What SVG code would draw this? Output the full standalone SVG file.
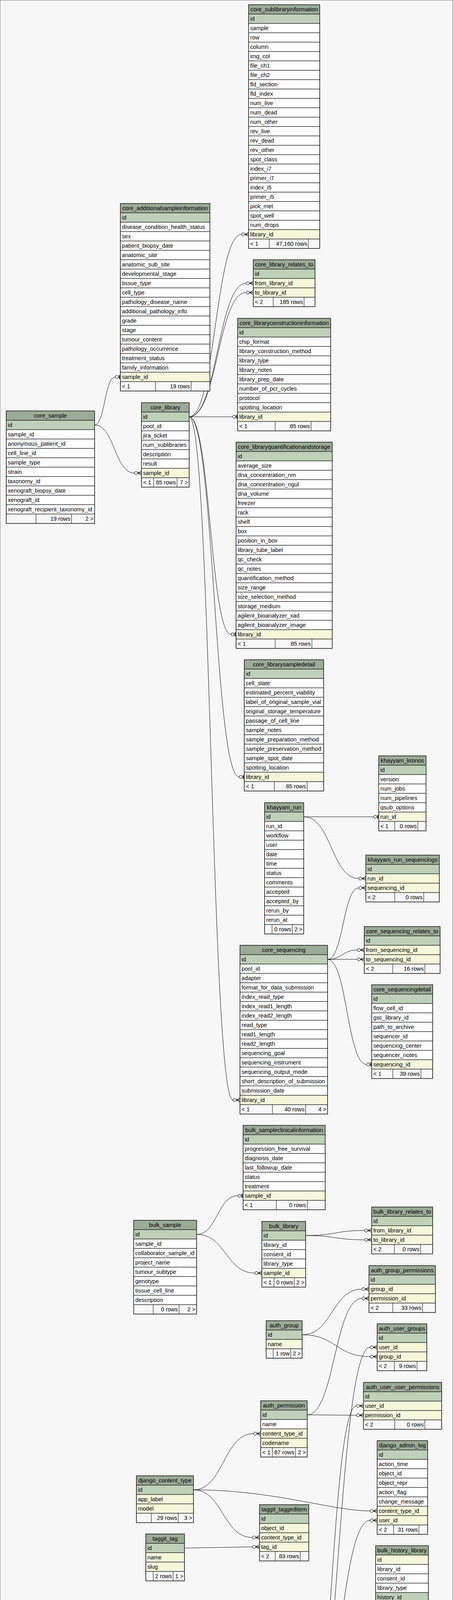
<svg xmlns="http://www.w3.org/2000/svg" width="1159" height="6197" viewBox="0 0 1159 6197">
<style>
text{font-family:"Liberation Sans",Arial,Helvetica,sans-serif;font-size:14.67px;fill:#000}
.c{text-anchor:middle}
.r{text-anchor:end}
rect{stroke:#000;stroke-width:1}
.h{fill:#9bab96}
.p{fill:#bed1b8}
.f{fill:#f4f7da}
.n{fill:#ffffff}
.ft{fill:#f7f7f7}
.o{fill:none;stroke:#333;stroke-width:1.5}
.d{fill:none;stroke:#000;stroke-width:1}
.e{fill:none;stroke:#000;stroke-width:1}
</style>
<defs>
<g id="cr"><circle cx="-14" cy="0" r="4" fill="none" stroke="#000" stroke-width="1"/><path d="M-10 0H0M-10 0L0 -5M-10 0L0 5" fill="none" stroke="#000" stroke-width="1.3"/></g>
<g id="te"><circle cx="-9" cy="0" r="4" fill="none" stroke="#000" stroke-width="1"/><path d="M-5 0H0" fill="none" stroke="#000" stroke-width="1"/><path d="M-2.5 -5V5" fill="none" stroke="#000" stroke-width="2"/></g>
</defs>
<rect x="0" y="0" width="1159" height="6197" fill="#f7f7f7" stroke="none"/>

<g id="connectors">
<path class="e" d="M484 1067C551 1067 551 600 618 600"/><use href="#cr" x="636" y="600"/>
<path class="e" d="M484 1067C557 1067 557 725 630 725"/><use href="#cr" x="648" y="725"/>
<path class="e" d="M484 1067C557 1067 557 749 630 749"/><use href="#cr" x="648" y="749"/>
<path class="e" d="M484 1067H595"/><use href="#te" x="608" y="1067"/>
<path class="e" d="M484 1067C538 1067 538 1624 591 1624"/><use href="#te" x="604" y="1624"/>
<path class="e" d="M484 1067C548 1067 548 1989 612 1989"/><use href="#te" x="625" y="1989"/>
<path class="e" d="M484 1067C540 1067 540 2816 596 2816"/><use href="#cr" x="614" y="2816"/>
<path class="e" d="M242 1088C268 1088 268 965 295 965"/><use href="#te" x="308" y="965"/>
<path class="e" d="M242 1088C293 1088 293 1211 344 1211"/><use href="#cr" x="362" y="1211"/>
<path class="e" d="M777 2091H956"/><use href="#te" x="969" y="2091"/>
<path class="e" d="M777 2091C848 2091 848 2249 918 2249"/><use href="#cr" x="936" y="2249"/>
<path class="e" d="M838 2456C878 2456 878 2273 918 2273"/><use href="#cr" x="936" y="2273"/>
<path class="e" d="M838 2456C876 2456 876 2432 914 2432"/><use href="#cr" x="932" y="2432"/>
<path class="e" d="M838 2456H914"/><use href="#cr" x="932" y="2456"/>
<path class="e" d="M838 2456C888 2456 888 2725 938 2725"/><use href="#te" x="951" y="2725"/>
<path class="e" d="M503 3160C556 3160 556 3061 609 3061"/><use href="#te" x="622" y="3061"/>
<path class="e" d="M503 3160C578 3160 578 3259 652 3259"/><use href="#cr" x="670" y="3259"/>
<path class="e" d="M782 3163C858 3163 858 3150 933 3150"/><use href="#cr" x="951" y="3150"/>
<path class="e" d="M782 3163C858 3163 858 3174 933 3174"/><use href="#cr" x="951" y="3174"/>
<path class="e" d="M773 3417C850 3417 850 3300 926 3300"/><use href="#cr" x="944" y="3300"/>
<path class="e" d="M773 3417C860 3417 860 3473 947 3473"/><use href="#cr" x="965" y="3473"/>
<path class="e" d="M786 3622C856 3622 856 3324 926 3324"/><use href="#cr" x="944" y="3324"/>
<path class="e" d="M786 3622L912 3623"/><use href="#cr" x="930" y="3623"/>
<path class="e" d="M781 4551C864 4551 864 3449 947 3449"/><use href="#cr" x="965" y="3449"/>
<path class="e" d="M781 4551C847 4551 847 3599 912 3599"/><use href="#cr" x="930" y="3599"/>
<path class="e" d="M495 3814C572 3814 572 3670 649 3670"/><use href="#cr" x="667" y="3670"/>
<path class="e" d="M495 3814C700 3814 850 3868 947 3868"/><use href="#cr" x="965" y="3868"/>
<path class="e" d="M495 3814C570 3814 570 3936 646 3936"/><use href="#cr" x="664" y="3936"/>
<path class="e" d="M472 3963L646 3960"/><use href="#cr" x="664" y="3960"/>
<path class="e" d="M781 4551C864 4551 864 3892 947 3892"/><use href="#cr" x="965" y="3892"/>
<path class="e" d="M781 4551C862 4551 862 4161 943 4161"/><use href="#cr" x="961" y="4161"/>
<path class="e" d="M781 4551H931"/><use href="#cr" x="949" y="4551"/>
<path class="e" d="M781 4551C866 4551 866 4868 951 4868"/><use href="#cr" x="969" y="4868"/>
<path class="e" d="M781 4551C839 4551 839 5305 898 5305"/><use href="#cr" x="916" y="5305"/>
<path class="e" d="M781 4551C840 4551 840 5839 899 5839"/><use href="#cr" x="917" y="5839"/>
<path class="e" d="M781 4551C863 4551 863 6108 946 6108"/><use href="#cr" x="964" y="6108"/>
</g>

<g id="core_sublibraryinformation" transform="translate(636,12)">
<rect class="h" width="182" height="24"/><text class="c" x="91" y="17">core_sublibraryinformation</text>
<rect class="p" y="24" width="182" height="24"/><text x="4" y="41">id</text>
<rect class="n" y="48" width="182" height="24"/><text x="4" y="65">sample</text>
<rect class="n" y="72" width="182" height="24"/><text x="4" y="89">row</text>
<rect class="n" y="96" width="182" height="24"/><text x="4" y="113">column</text>
<rect class="n" y="120" width="182" height="24"/><text x="4" y="137">img_col</text>
<rect class="n" y="144" width="182" height="24"/><text x="4" y="161">file_ch1</text>
<rect class="n" y="168" width="182" height="24"/><text x="4" y="185">file_ch2</text>
<rect class="n" y="192" width="182" height="24"/><text x="4" y="209">fld_section</text>
<rect class="n" y="216" width="182" height="24"/><text x="4" y="233">fld_index</text>
<rect class="n" y="240" width="182" height="24"/><text x="4" y="257">num_live</text>
<rect class="n" y="264" width="182" height="24"/><text x="4" y="281">num_dead</text>
<rect class="n" y="288" width="182" height="24"/><text x="4" y="305">num_other</text>
<rect class="n" y="312" width="182" height="24"/><text x="4" y="329">rev_live</text>
<rect class="n" y="336" width="182" height="24"/><text x="4" y="353">rev_dead</text>
<rect class="n" y="360" width="182" height="24"/><text x="4" y="377">rev_other</text>
<rect class="n" y="384" width="182" height="24"/><text x="4" y="401">spot_class</text>
<rect class="n" y="408" width="182" height="24"/><text x="4" y="425">index_i7</text>
<rect class="n" y="432" width="182" height="24"/><text x="4" y="449">primer_i7</text>
<rect class="n" y="456" width="182" height="24"/><text x="4" y="473">index_i5</text>
<rect class="n" y="480" width="182" height="24"/><text x="4" y="497">primer_i5</text>
<rect class="n" y="504" width="182" height="24"/><text x="4" y="521">pick_met</text>
<rect class="n" y="528" width="182" height="24"/><text x="4" y="545">spot_well</text>
<rect class="n" y="552" width="182" height="24"/><text x="4" y="569">num_drops</text>
<rect class="f" y="576" width="182" height="24"/><text x="4" y="593">library_id</text>
<rect class="ft" y="600" width="182" height="24"/><path class="d" d="M53 600v24M153 600v24"/>
<text x="4" y="617">&lt; 1</text><text class="r" x="150" y="617">47,160 rows</text>
<rect class="o" width="182" height="624"/>
</g>

<g id="core_additionalsampleinformation" transform="translate(308,521)">
<rect class="h" width="229" height="24"/><text class="c" x="114.5" y="17">core_additionalsampleinformation</text>
<rect class="p" y="24" width="229" height="24"/><text x="4" y="41">id</text>
<rect class="n" y="48" width="229" height="24"/><text x="4" y="65">disease_condition_health_status</text>
<rect class="n" y="72" width="229" height="24"/><text x="4" y="89">sex</text>
<rect class="n" y="96" width="229" height="24"/><text x="4" y="113">patient_biopsy_date</text>
<rect class="n" y="120" width="229" height="24"/><text x="4" y="137">anatomic_site</text>
<rect class="n" y="144" width="229" height="24"/><text x="4" y="161">anatomic_sub_site</text>
<rect class="n" y="168" width="229" height="24"/><text x="4" y="185">developmental_stage</text>
<rect class="n" y="192" width="229" height="24"/><text x="4" y="209">tissue_type</text>
<rect class="n" y="216" width="229" height="24"/><text x="4" y="233">cell_type</text>
<rect class="n" y="240" width="229" height="24"/><text x="4" y="257">pathology_disease_name</text>
<rect class="n" y="264" width="229" height="24"/><text x="4" y="281">additional_pathology_info</text>
<rect class="n" y="288" width="229" height="24"/><text x="4" y="305">grade</text>
<rect class="n" y="312" width="229" height="24"/><text x="4" y="329">stage</text>
<rect class="n" y="336" width="229" height="24"/><text x="4" y="353">tumour_content</text>
<rect class="n" y="360" width="229" height="24"/><text x="4" y="377">pathology_occurrence</text>
<rect class="n" y="384" width="229" height="24"/><text x="4" y="401">treatment_status</text>
<rect class="n" y="408" width="229" height="24"/><text x="4" y="425">family_information</text>
<rect class="f" y="432" width="229" height="24"/><text x="4" y="449">sample_id</text>
<rect class="ft" y="456" width="229" height="24"/><path class="d" d="M90 456v24M181 456v24"/>
<text x="4" y="473">&lt; 1</text><text class="r" x="178" y="473">19 rows</text>
<rect class="o" width="229" height="480"/>
</g>

<g id="core_library_relates_to" transform="translate(648,665)">
<rect class="h" width="158" height="24"/><text class="c" x="79" y="17">core_library_relates_to</text>
<rect class="p" y="24" width="158" height="24"/><text x="4" y="41">id</text>
<rect class="f" y="48" width="158" height="24"/><text x="4" y="65">from_library_id</text>
<rect class="f" y="72" width="158" height="24"/><text x="4" y="89">to_library_id</text>
<rect class="ft" y="96" width="158" height="24"/><path class="d" d="M51 96v24M130 96v24"/>
<text x="4" y="113">&lt; 2</text><text class="r" x="127" y="113">185 rows</text>
<rect class="o" width="158" height="120"/>
</g>

<g id="core_libraryconstructioninformation" transform="translate(608,815)">
<rect class="h" width="238" height="24"/><text class="c" x="119" y="17">core_libraryconstructioninformation</text>
<rect class="p" y="24" width="238" height="24"/><text x="4" y="41">id</text>
<rect class="n" y="48" width="238" height="24"/><text x="4" y="65">chip_format</text>
<rect class="n" y="72" width="238" height="24"/><text x="4" y="89">library_construction_method</text>
<rect class="n" y="96" width="238" height="24"/><text x="4" y="113">library_type</text>
<rect class="n" y="120" width="238" height="24"/><text x="4" y="137">library_notes</text>
<rect class="n" y="144" width="238" height="24"/><text x="4" y="161">library_prep_date</text>
<rect class="n" y="168" width="238" height="24"/><text x="4" y="185">number_of_pcr_cycles</text>
<rect class="n" y="192" width="238" height="24"/><text x="4" y="209">protocol</text>
<rect class="n" y="216" width="238" height="24"/><text x="4" y="233">spotting_location</text>
<rect class="f" y="240" width="238" height="24"/><text x="4" y="257">library_id</text>
<rect class="ft" y="264" width="238" height="24"/><path class="d" d="M96 264v24M188 264v24"/>
<text x="4" y="281">&lt; 1</text><text class="r" x="185" y="281">85 rows</text>
<rect class="o" width="238" height="288"/>
</g>

<g id="core_library" transform="translate(362,1031)">
<rect class="h" width="122" height="24"/><text class="c" x="61" y="17">core_library</text>
<rect class="p" y="24" width="122" height="24"/><text x="4" y="41">id</text>
<rect class="n" y="48" width="122" height="24"/><text x="4" y="65">pool_id</text>
<rect class="n" y="72" width="122" height="24"/><text x="4" y="89">jira_ticket</text>
<rect class="n" y="96" width="122" height="24"/><text x="4" y="113">num_sublibraries</text>
<rect class="n" y="120" width="122" height="24"/><text x="4" y="137">description</text>
<rect class="n" y="144" width="122" height="24"/><text x="4" y="161">result</text>
<rect class="f" y="168" width="122" height="24"/><text x="4" y="185">sample_id</text>
<rect class="ft" y="192" width="122" height="24"/><path class="d" d="M31 192v24M91 192v24"/>
<text x="4" y="209">&lt; 1</text><text class="r" x="88" y="209">85 rows</text><text class="r" x="119" y="209">7 &gt;</text>
<rect class="o" width="122" height="216"/>
</g>

<g id="core_sample" transform="translate(16,1052)">
<rect class="h" width="226" height="24"/><text class="c" x="113" y="17">core_sample</text>
<rect class="p" y="24" width="226" height="24"/><text x="4" y="41">id</text>
<rect class="n" y="48" width="226" height="24"/><text x="4" y="65">sample_id</text>
<rect class="n" y="72" width="226" height="24"/><text x="4" y="89">anonymous_patient_id</text>
<rect class="n" y="96" width="226" height="24"/><text x="4" y="113">cell_line_id</text>
<rect class="n" y="120" width="226" height="24"/><text x="4" y="137">sample_type</text>
<rect class="n" y="144" width="226" height="24"/><text x="4" y="161">strain</text>
<rect class="n" y="168" width="226" height="24"/><text x="4" y="185">taxonomy_id</text>
<rect class="n" y="192" width="226" height="24"/><text x="4" y="209">xenograft_biopsy_date</text>
<rect class="n" y="216" width="226" height="24"/><text x="4" y="233">xenograft_id</text>
<rect class="n" y="240" width="226" height="24"/><text x="4" y="257">xenograft_recipient_taxonomy_id</text>
<rect class="ft" y="264" width="226" height="24"/><path class="d" d="M76 264v24M167 264v24"/>
<text class="r" x="164" y="281">19 rows</text><text class="r" x="223" y="281">2 &gt;</text>
<rect class="o" width="226" height="288"/>
</g>

<g id="core_libraryquantificationandstorage" transform="translate(604,1132)">
<rect class="h" width="246" height="24"/><text class="c" x="123" y="17">core_libraryquantificationandstorage</text>
<rect class="p" y="24" width="246" height="24"/><text x="4" y="41">id</text>
<rect class="n" y="48" width="246" height="24"/><text x="4" y="65">average_size</text>
<rect class="n" y="72" width="246" height="24"/><text x="4" y="89">dna_concentration_nm</text>
<rect class="n" y="96" width="246" height="24"/><text x="4" y="113">dna_concentration_ngul</text>
<rect class="n" y="120" width="246" height="24"/><text x="4" y="137">dna_volume</text>
<rect class="n" y="144" width="246" height="24"/><text x="4" y="161">freezer</text>
<rect class="n" y="168" width="246" height="24"/><text x="4" y="185">rack</text>
<rect class="n" y="192" width="246" height="24"/><text x="4" y="209">shelf</text>
<rect class="n" y="216" width="246" height="24"/><text x="4" y="233">box</text>
<rect class="n" y="240" width="246" height="24"/><text x="4" y="257">position_in_box</text>
<rect class="n" y="264" width="246" height="24"/><text x="4" y="281">library_tube_label</text>
<rect class="n" y="288" width="246" height="24"/><text x="4" y="305">qc_check</text>
<rect class="n" y="312" width="246" height="24"/><text x="4" y="329">qc_notes</text>
<rect class="n" y="336" width="246" height="24"/><text x="4" y="353">quantification_method</text>
<rect class="n" y="360" width="246" height="24"/><text x="4" y="377">size_range</text>
<rect class="n" y="384" width="246" height="24"/><text x="4" y="401">size_selection_method</text>
<rect class="n" y="408" width="246" height="24"/><text x="4" y="425">storage_medium</text>
<rect class="n" y="432" width="246" height="24"/><text x="4" y="449">agilent_bioanalyzer_xad</text>
<rect class="n" y="456" width="246" height="24"/><text x="4" y="473">agilent_bioanalyzer_image</text>
<rect class="f" y="480" width="246" height="24"/><text x="4" y="497">library_id</text>
<rect class="ft" y="504" width="246" height="24"/><path class="d" d="M100 504v24M194 504v24"/>
<text x="4" y="521">&lt; 1</text><text class="r" x="191" y="521">85 rows</text>
<rect class="o" width="246" height="528"/>
</g>

<g id="core_librarysampledetail" transform="translate(625,1689)">
<rect class="h" width="203" height="24"/><text class="c" x="101.5" y="17">core_librarysampledetail</text>
<rect class="p" y="24" width="203" height="24"/><text x="4" y="41">id</text>
<rect class="n" y="48" width="203" height="24"/><text x="4" y="65">cell_state</text>
<rect class="n" y="72" width="203" height="24"/><text x="4" y="89">estimated_percent_viability</text>
<rect class="n" y="96" width="203" height="24"/><text x="4" y="113">label_of_original_sample_vial</text>
<rect class="n" y="120" width="203" height="24"/><text x="4" y="137">original_storage_temperature</text>
<rect class="n" y="144" width="203" height="24"/><text x="4" y="161">passage_of_cell_line</text>
<rect class="n" y="168" width="203" height="24"/><text x="4" y="185">sample_notes</text>
<rect class="n" y="192" width="203" height="24"/><text x="4" y="209">sample_preparation_method</text>
<rect class="n" y="216" width="203" height="24"/><text x="4" y="233">sample_preservation_method</text>
<rect class="n" y="240" width="203" height="24"/><text x="4" y="257">sample_spot_date</text>
<rect class="n" y="264" width="203" height="24"/><text x="4" y="281">spotting_location</text>
<rect class="f" y="288" width="203" height="24"/><text x="4" y="305">library_id</text>
<rect class="ft" y="312" width="203" height="24"/><path class="d" d="M77 312v24M161 312v24"/>
<text x="4" y="329">&lt; 1</text><text class="r" x="158" y="329">85 rows</text>
<rect class="o" width="203" height="336"/>
</g>

<g id="khayyam_kronos" transform="translate(969,1935)">
<rect class="h" width="121" height="24"/><text class="c" x="60.5" y="17">khayyam_kronos</text>
<rect class="p" y="24" width="121" height="24"/><text x="4" y="41">id</text>
<rect class="n" y="48" width="121" height="24"/><text x="4" y="65">version</text>
<rect class="n" y="72" width="121" height="24"/><text x="4" y="89">num_jobs</text>
<rect class="n" y="96" width="121" height="24"/><text x="4" y="113">num_pipelines</text>
<rect class="n" y="120" width="121" height="24"/><text x="4" y="137">qsub_options</text>
<rect class="f" y="144" width="121" height="24"/><text x="4" y="161">run_id</text>
<rect class="ft" y="168" width="121" height="24"/><path class="d" d="M41 168v24M100 168v24"/>
<text x="4" y="185">&lt; 1</text><text class="r" x="97" y="185">0 rows</text>
<rect class="o" width="121" height="192"/>
</g>

<g id="khayyam_run" transform="translate(677,2055)">
<rect class="h" width="100" height="24"/><text class="c" x="50" y="17">khayyam_run</text>
<rect class="p" y="24" width="100" height="24"/><text x="4" y="41">id</text>
<rect class="n" y="48" width="100" height="24"/><text x="4" y="65">run_id</text>
<rect class="n" y="72" width="100" height="24"/><text x="4" y="89">workflow</text>
<rect class="n" y="96" width="100" height="24"/><text x="4" y="113">user</text>
<rect class="n" y="120" width="100" height="24"/><text x="4" y="137">date</text>
<rect class="n" y="144" width="100" height="24"/><text x="4" y="161">time</text>
<rect class="n" y="168" width="100" height="24"/><text x="4" y="185">status</text>
<rect class="n" y="192" width="100" height="24"/><text x="4" y="209">comments</text>
<rect class="n" y="216" width="100" height="24"/><text x="4" y="233">accepted</text>
<rect class="n" y="240" width="100" height="24"/><text x="4" y="257">accepted_by</text>
<rect class="n" y="264" width="100" height="24"/><text x="4" y="281">rerun_by</text>
<rect class="n" y="288" width="100" height="24"/><text x="4" y="305">rerun_at</text>
<rect class="ft" y="312" width="100" height="24"/><path class="d" d="M19 312v24M71 312v24"/>
<text class="r" x="68" y="329">0 rows</text><text class="r" x="97" y="329">2 &gt;</text>
<rect class="o" width="100" height="336"/>
</g>

<g id="khayyam_run_sequencings" transform="translate(936,2189)">
<rect class="h" width="188" height="24"/><text class="c" x="94" y="17">khayyam_run_sequencings</text>
<rect class="p" y="24" width="188" height="24"/><text x="4" y="41">id</text>
<rect class="f" y="48" width="188" height="24"/><text x="4" y="65">run_id</text>
<rect class="f" y="72" width="188" height="24"/><text x="4" y="89">sequencing_id</text>
<rect class="ft" y="96" width="188" height="24"/><path class="d" d="M74 96v24M148 96v24"/>
<text x="4" y="113">&lt; 2</text><text class="r" x="145" y="113">0 rows</text>
<rect class="o" width="188" height="120"/>
</g>

<g id="core_sequencing_relates_to" transform="translate(932,2372)">
<rect class="h" width="194" height="24"/><text class="c" x="97" y="17">core_sequencing_relates_to</text>
<rect class="p" y="24" width="194" height="24"/><text x="4" y="41">id</text>
<rect class="f" y="48" width="194" height="24"/><text x="4" y="65">from_sequencing_id</text>
<rect class="f" y="72" width="194" height="24"/><text x="4" y="89">to_sequencing_id</text>
<rect class="ft" y="96" width="194" height="24"/><path class="d" d="M73 96v24M155 96v24"/>
<text x="4" y="113">&lt; 2</text><text class="r" x="152" y="113">16 rows</text>
<rect class="o" width="194" height="120"/>
</g>

<g id="core_sequencing" transform="translate(614,2420)">
<rect class="h" width="224" height="24"/><text class="c" x="112" y="17">core_sequencing</text>
<rect class="p" y="24" width="224" height="24"/><text x="4" y="41">id</text>
<rect class="n" y="48" width="224" height="24"/><text x="4" y="65">pool_id</text>
<rect class="n" y="72" width="224" height="24"/><text x="4" y="89">adapter</text>
<rect class="n" y="96" width="224" height="24"/><text x="4" y="113">format_for_data_submission</text>
<rect class="n" y="120" width="224" height="24"/><text x="4" y="137">index_read_type</text>
<rect class="n" y="144" width="224" height="24"/><text x="4" y="161">index_read1_length</text>
<rect class="n" y="168" width="224" height="24"/><text x="4" y="185">index_read2_length</text>
<rect class="n" y="192" width="224" height="24"/><text x="4" y="209">read_type</text>
<rect class="n" y="216" width="224" height="24"/><text x="4" y="233">read1_length</text>
<rect class="n" y="240" width="224" height="24"/><text x="4" y="257">read2_length</text>
<rect class="n" y="264" width="224" height="24"/><text x="4" y="281">sequencing_goal</text>
<rect class="n" y="288" width="224" height="24"/><text x="4" y="305">sequencing_instrument</text>
<rect class="n" y="312" width="224" height="24"/><text x="4" y="329">sequencing_output_mode</text>
<rect class="n" y="336" width="224" height="24"/><text x="4" y="353">short_description_of_submission</text>
<rect class="n" y="360" width="224" height="24"/><text x="4" y="377">submission_date</text>
<rect class="f" y="384" width="224" height="24"/><text x="4" y="401">library_id</text>
<rect class="ft" y="408" width="224" height="24"/><path class="d" d="M83 408v24M168 408v24"/>
<text x="4" y="425">&lt; 1</text><text class="r" x="165" y="425">40 rows</text><text class="r" x="221" y="425">4 &gt;</text>
<rect class="o" width="224" height="432"/>
</g>

<g id="core_sequencingdetail" transform="translate(951,2521)">
<rect class="h" width="156" height="24"/><text class="c" x="78" y="17">core_sequencingdetail</text>
<rect class="p" y="24" width="156" height="24"/><text x="4" y="41">id</text>
<rect class="n" y="48" width="156" height="24"/><text x="4" y="65">flow_cell_id</text>
<rect class="n" y="72" width="156" height="24"/><text x="4" y="89">gsc_library_id</text>
<rect class="n" y="96" width="156" height="24"/><text x="4" y="113">path_to_archive</text>
<rect class="n" y="120" width="156" height="24"/><text x="4" y="137">sequencer_id</text>
<rect class="n" y="144" width="156" height="24"/><text x="4" y="161">sequencing_center</text>
<rect class="n" y="168" width="156" height="24"/><text x="4" y="185">sequencer_notes</text>
<rect class="f" y="192" width="156" height="24"/><text x="4" y="209">sequencing_id</text>
<rect class="ft" y="216" width="156" height="24"/><path class="d" d="M54 216v24M126 216v24"/>
<text x="4" y="233">&lt; 1</text><text class="r" x="123" y="233">39 rows</text>
<rect class="o" width="156" height="240"/>
</g>

<g id="bulk_sampleclinicalinformation" transform="translate(622,2881)">
<rect class="h" width="210" height="24"/><text class="c" x="105" y="17">bulk_sampleclinicalinformation</text>
<rect class="p" y="24" width="210" height="24"/><text x="4" y="41">id</text>
<rect class="n" y="48" width="210" height="24"/><text x="4" y="65">progression_free_survival</text>
<rect class="n" y="72" width="210" height="24"/><text x="4" y="89">diagnosis_date</text>
<rect class="n" y="96" width="210" height="24"/><text x="4" y="113">last_followup_date</text>
<rect class="n" y="120" width="210" height="24"/><text x="4" y="137">status</text>
<rect class="n" y="144" width="210" height="24"/><text x="4" y="161">treatment</text>
<rect class="f" y="168" width="210" height="24"/><text x="4" y="185">sample_id</text>
<rect class="ft" y="192" width="210" height="24"/><path class="d" d="M85 192v24M164.5 192v24"/>
<text x="4" y="209">&lt; 1</text><text class="r" x="161" y="209">0 rows</text>
<rect class="o" width="210" height="216"/>
</g>

<g id="bulk_library_relates_to" transform="translate(951,3090)">
<rect class="h" width="156" height="24"/><text class="c" x="78" y="17">bulk_library_relates_to</text>
<rect class="p" y="24" width="156" height="24"/><text x="4" y="41">id</text>
<rect class="f" y="48" width="156" height="24"/><text x="4" y="65">from_library_id</text>
<rect class="f" y="72" width="156" height="24"/><text x="4" y="89">to_library_id</text>
<rect class="ft" y="96" width="156" height="24"/><path class="d" d="M58 96v24M125 96v24"/>
<text x="4" y="113">&lt; 2</text><text class="r" x="122" y="113">0 rows</text>
<rect class="o" width="156" height="120"/>
</g>

<g id="bulk_sample" transform="translate(342,3124)">
<rect class="h" width="161" height="24"/><text class="c" x="80.5" y="17">bulk_sample</text>
<rect class="p" y="24" width="161" height="24"/><text x="4" y="41">id</text>
<rect class="n" y="48" width="161" height="24"/><text x="4" y="65">sample_id</text>
<rect class="n" y="72" width="161" height="24"/><text x="4" y="89">collaborator_sample_id</text>
<rect class="n" y="96" width="161" height="24"/><text x="4" y="113">project_name</text>
<rect class="n" y="120" width="161" height="24"/><text x="4" y="137">tumour_subtype</text>
<rect class="n" y="144" width="161" height="24"/><text x="4" y="161">genotype</text>
<rect class="n" y="168" width="161" height="24"/><text x="4" y="185">tissue_cell_line</text>
<rect class="n" y="192" width="161" height="24"/><text x="4" y="209">description</text>
<rect class="ft" y="216" width="161" height="24"/><path class="d" d="M50 216v24M116 216v24"/>
<text class="r" x="113" y="233">0 rows</text><text class="r" x="158" y="233">2 &gt;</text>
<rect class="o" width="161" height="240"/>
</g>

<g id="bulk_library" transform="translate(670,3127)">
<rect class="h" width="112" height="24"/><text class="c" x="56" y="17">bulk_library</text>
<rect class="p" y="24" width="112" height="24"/><text x="4" y="41">id</text>
<rect class="n" y="48" width="112" height="24"/><text x="4" y="65">library_id</text>
<rect class="n" y="72" width="112" height="24"/><text x="4" y="89">consent_id</text>
<rect class="n" y="96" width="112" height="24"/><text x="4" y="113">library_type</text>
<rect class="f" y="120" width="112" height="24"/><text x="4" y="137">sample_id</text>
<rect class="ft" y="144" width="112" height="24"/><path class="d" d="M31 144v24M83 144v24"/>
<text x="4" y="161">&lt; 1</text><text class="r" x="80" y="161">0 rows</text><text class="r" x="109" y="161">2 &gt;</text>
<rect class="o" width="112" height="168"/>
</g>

<g id="auth_group_permissions" transform="translate(944,3240)">
<rect class="h" width="170" height="24"/><text class="c" x="85" y="17">auth_group_permissions</text>
<rect class="p" y="24" width="170" height="24"/><text x="4" y="41">id</text>
<rect class="f" y="48" width="170" height="24"/><text x="4" y="65">group_id</text>
<rect class="f" y="72" width="170" height="24"/><text x="4" y="89">permission_id</text>
<rect class="ft" y="96" width="170" height="24"/><path class="d" d="M61 96v24M137 96v24"/>
<text x="4" y="113">&lt; 2</text><text class="r" x="134" y="113">33 rows</text>
<rect class="o" width="170" height="120"/>
</g>

<g id="auth_group" transform="translate(681,3381)">
<rect class="h" width="92" height="24"/><text class="c" x="46" y="17">auth_group</text>
<rect class="p" y="24" width="92" height="24"/><text x="4" y="41">id</text>
<rect class="f" y="48" width="92" height="24"/><text x="4" y="65">name</text>
<rect class="ft" y="72" width="92" height="24"/><path class="d" d="M18 72v24M63 72v24"/>
<text class="r" x="60" y="89">1 row</text><text class="r" x="89" y="89">2 &gt;</text>
<rect class="o" width="92" height="96"/>
</g>

<g id="auth_user_groups" transform="translate(965,3389)">
<rect class="h" width="127" height="24"/><text class="c" x="63.5" y="17">auth_user_groups</text>
<rect class="p" y="24" width="127" height="24"/><text x="4" y="41">id</text>
<rect class="f" y="48" width="127" height="24"/><text x="4" y="65">user_id</text>
<rect class="f" y="72" width="127" height="24"/><text x="4" y="89">group_id</text>
<rect class="ft" y="96" width="127" height="24"/><path class="d" d="M44 96v24M102 96v24"/>
<text x="4" y="113">&lt; 2</text><text class="r" x="99" y="113">9 rows</text>
<rect class="o" width="127" height="120"/>
</g>

<g id="auth_user_user_permissions" transform="translate(930,3539)">
<rect class="h" width="200" height="24"/><text class="c" x="100" y="17">auth_user_user_permissions</text>
<rect class="p" y="24" width="200" height="24"/><text x="4" y="41">id</text>
<rect class="f" y="48" width="200" height="24"/><text x="4" y="65">user_id</text>
<rect class="f" y="72" width="200" height="24"/><text x="4" y="89">permission_id</text>
<rect class="ft" y="96" width="200" height="24"/><path class="d" d="M80 96v24M157 96v24"/>
<text x="4" y="113">&lt; 2</text><text class="r" x="154" y="113">0 rows</text>
<rect class="o" width="200" height="120"/>
</g>

<g id="auth_permission" transform="translate(667,3586)">
<rect class="h" width="119" height="24"/><text class="c" x="59.5" y="17">auth_permission</text>
<rect class="p" y="24" width="119" height="24"/><text x="4" y="41">id</text>
<rect class="n" y="48" width="119" height="24"/><text x="4" y="65">name</text>
<rect class="f" y="72" width="119" height="24"/><text x="4" y="89">content_type_id</text>
<rect class="f" y="96" width="119" height="24"/><text x="4" y="113">codename</text>
<rect class="ft" y="120" width="119" height="24"/><path class="d" d="M30 120v24M89 120v24"/>
<text x="4" y="137">&lt; 1</text><text class="r" x="86" y="137">87 rows</text><text class="r" x="116" y="137">2 &gt;</text>
<rect class="o" width="119" height="144"/>
</g>

<g id="django_admin_log" transform="translate(965,3688)">
<rect class="h" width="129" height="24"/><text class="c" x="64.5" y="17">django_admin_log</text>
<rect class="p" y="24" width="129" height="24"/><text x="4" y="41">id</text>
<rect class="n" y="48" width="129" height="24"/><text x="4" y="65">action_time</text>
<rect class="n" y="72" width="129" height="24"/><text x="4" y="89">object_id</text>
<rect class="n" y="96" width="129" height="24"/><text x="4" y="113">object_repr</text>
<rect class="n" y="120" width="129" height="24"/><text x="4" y="137">action_flag</text>
<rect class="n" y="144" width="129" height="24"/><text x="4" y="161">change_message</text>
<rect class="f" y="168" width="129" height="24"/><text x="4" y="185">content_type_id</text>
<rect class="f" y="192" width="129" height="24"/><text x="4" y="209">user_id</text>
<rect class="ft" y="216" width="129" height="24"/><path class="d" d="M42 216v24M107 216v24"/>
<text x="4" y="233">&lt; 2</text><text class="r" x="104" y="233">31 rows</text>
<rect class="o" width="129" height="240"/>
</g>

<g id="django_content_type" transform="translate(349,3778)">
<rect class="h" width="146" height="24"/><text class="c" x="73" y="17">django_content_type</text>
<rect class="p" y="24" width="146" height="24"/><text x="4" y="41">id</text>
<rect class="f" y="48" width="146" height="24"/><text x="4" y="65">app_label</text>
<rect class="f" y="72" width="146" height="24"/><text x="4" y="89">model</text>
<rect class="ft" y="96" width="146" height="24"/><path class="d" d="M38 96v24M107 96v24"/>
<text class="r" x="104" y="113">29 rows</text><text class="r" x="143" y="113">3 &gt;</text>
<rect class="o" width="146" height="120"/>
</g>

<g id="taggit_taggeditem" transform="translate(664,3852)">
<rect class="h" width="126" height="24"/><text class="c" x="63" y="17">taggit_taggeditem</text>
<rect class="p" y="24" width="126" height="24"/><text x="4" y="41">id</text>
<rect class="f" y="48" width="126" height="24"/><text x="4" y="65">object_id</text>
<rect class="f" y="72" width="126" height="24"/><text x="4" y="89">content_type_id</text>
<rect class="f" y="96" width="126" height="24"/><text x="4" y="113">tag_id</text>
<rect class="ft" y="120" width="126" height="24"/><path class="d" d="M40 120v24M104 120v24"/>
<text x="4" y="137">&lt; 2</text><text class="r" x="101" y="137">83 rows</text>
<rect class="o" width="126" height="144"/>
</g>

<g id="taggit_tag" transform="translate(373,3927)">
<rect class="h" width="99" height="24"/><text class="c" x="49.5" y="17">taggit_tag</text>
<rect class="p" y="24" width="99" height="24"/><text x="4" y="41">id</text>
<rect class="f" y="48" width="99" height="24"/><text x="4" y="65">name</text>
<rect class="f" y="72" width="99" height="24"/><text x="4" y="89">slug</text>
<rect class="ft" y="96" width="99" height="24"/><path class="d" d="M19 96v24M70 96v24"/>
<text class="r" x="67" y="113">2 rows</text><text class="r" x="96" y="113">1 &gt;</text>
<rect class="o" width="99" height="120"/>
</g>

<g id="bulk_history_library" transform="translate(961,3957)">
<rect class="h" width="135" height="24"/><text class="c" x="67.5" y="17">bulk_history_library</text>
<rect class="f" y="24" width="135" height="24"/><text x="4" y="41">id</text>
<rect class="n" y="48" width="135" height="24"/><text x="4" y="65">library_id</text>
<rect class="n" y="72" width="135" height="24"/><text x="4" y="89">consent_id</text>
<rect class="n" y="96" width="135" height="24"/><text x="4" y="113">library_type</text>
<rect class="p" y="120" width="135" height="24"/><text x="4" y="137">history_id</text>
<rect class="n" y="144" width="135" height="24"/><text x="4" y="161">history_date</text>
<rect class="n" y="168" width="135" height="24"/><text x="4" y="185">history_type</text>
<rect class="f" y="192" width="135" height="24"/><text x="4" y="209">history_user_id</text>
<rect class="f" y="216" width="135" height="24"/><text x="4" y="233">sample_id</text>
<rect class="ft" y="240" width="135" height="24"/><path class="d" d="M48 240v24M109 240v24"/>
<text x="4" y="257">&lt; 1</text><text class="r" x="106" y="257">0 rows</text>
<rect class="o" width="135" height="264"/>
</g>

<g id="bulk_history_sample" transform="translate(949,4251)">
<rect class="h" width="161" height="24"/><text class="c" x="80.5" y="17">bulk_history_sample</text>
<rect class="f" y="24" width="161" height="24"/><text x="4" y="41">id</text>
<rect class="n" y="48" width="161" height="24"/><text x="4" y="65">sample_id</text>
<rect class="n" y="72" width="161" height="24"/><text x="4" y="89">collaborator_sample_id</text>
<rect class="n" y="96" width="161" height="24"/><text x="4" y="113">project_name</text>
<rect class="n" y="120" width="161" height="24"/><text x="4" y="137">tumour_subtype</text>
<rect class="n" y="144" width="161" height="24"/><text x="4" y="161">genotype</text>
<rect class="n" y="168" width="161" height="24"/><text x="4" y="185">tissue_cell_line</text>
<rect class="n" y="192" width="161" height="24"/><text x="4" y="209">description</text>
<rect class="p" y="216" width="161" height="24"/><text x="4" y="233">history_id</text>
<rect class="n" y="240" width="161" height="24"/><text x="4" y="257">history_date</text>
<rect class="n" y="264" width="161" height="24"/><text x="4" y="281">history_type</text>
<rect class="f" y="288" width="161" height="24"/><text x="4" y="305">history_user_id</text>
<rect class="ft" y="312" width="161" height="24"/><path class="d" d="M61 312v24M128 312v24"/>
<text x="4" y="329">&lt; 1</text><text class="r" x="125" y="329">0 rows</text>
<rect class="o" width="161" height="336"/>
</g>

<g id="auth_user" transform="translate(673,4515)">
<rect class="h" width="108" height="24"/><text class="c" x="54" y="17">auth_user</text>
<rect class="p" y="24" width="108" height="24"/><text x="4" y="41">id</text>
<rect class="n" y="48" width="108" height="24"/><text x="4" y="65">password</text>
<rect class="n" y="72" width="108" height="24"/><text x="4" y="89">last_login</text>
<rect class="n" y="96" width="108" height="24"/><text x="4" y="113">is_superuser</text>
<rect class="f" y="120" width="108" height="24"/><text x="4" y="137">username</text>
<rect class="n" y="144" width="108" height="24"/><text x="4" y="161">first_name</text>
<rect class="n" y="168" width="108" height="24"/><text x="4" y="185">last_name</text>
<rect class="n" y="192" width="108" height="24"/><text x="4" y="209">email</text>
<rect class="n" y="216" width="108" height="24"/><text x="4" y="233">is_staff</text>
<rect class="n" y="240" width="108" height="24"/><text x="4" y="257">is_active</text>
<rect class="n" y="264" width="108" height="24"/><text x="4" y="281">date_joined</text>
<rect class="ft" y="288" width="108" height="24"/><path class="d" d="M19 288v24M79 288v24"/>
<text class="r" x="76" y="305">10 rows</text><text class="r" x="105" y="305">9 &gt;</text>
<rect class="o" width="108" height="312"/>
</g>

<g id="history_library" transform="translate(969,4616)">
<rect class="h" width="121" height="24"/><text class="c" x="60.5" y="17">history_library</text>
<rect class="f" y="24" width="121" height="24"/><text x="4" y="41">id</text>
<rect class="n" y="48" width="121" height="24"/><text x="4" y="65">pool_id</text>
<rect class="n" y="72" width="121" height="24"/><text x="4" y="89">jira_ticket</text>
<rect class="n" y="96" width="121" height="24"/><text x="4" y="113">num_sublibraries</text>
<rect class="n" y="120" width="121" height="24"/><text x="4" y="137">description</text>
<rect class="n" y="144" width="121" height="24"/><text x="4" y="161">result</text>
<rect class="p" y="168" width="121" height="24"/><text x="4" y="185">history_id</text>
<rect class="n" y="192" width="121" height="24"/><text x="4" y="209">history_date</text>
<rect class="n" y="216" width="121" height="24"/><text x="4" y="233">history_type</text>
<rect class="f" y="240" width="121" height="24"/><text x="4" y="257">history_user_id</text>
<rect class="f" y="264" width="121" height="24"/><text x="4" y="281">sample_id</text>
<rect class="ft" y="288" width="121" height="24"/><path class="d" d="M33 288v24M103 288v24"/>
<text x="4" y="305">&lt; 1</text><text class="r" x="100" y="305">851 rows</text>
<rect class="o" width="121" height="312"/>
</g>

<g id="history_sample" transform="translate(916,4957)">
<rect class="h" width="227" height="24"/><text class="c" x="113.5" y="17">history_sample</text>
<rect class="f" y="24" width="227" height="24"/><text x="4" y="41">id</text>
<rect class="n" y="48" width="227" height="24"/><text x="4" y="65">sample_id</text>
<rect class="n" y="72" width="227" height="24"/><text x="4" y="89">taxonomy_id</text>
<rect class="n" y="96" width="227" height="24"/><text x="4" y="113">sample_type</text>
<rect class="n" y="120" width="227" height="24"/><text x="4" y="137">anonymous_patient_id</text>
<rect class="n" y="144" width="227" height="24"/><text x="4" y="161">cell_line_id</text>
<rect class="n" y="168" width="227" height="24"/><text x="4" y="185">xenograft_id</text>
<rect class="n" y="192" width="227" height="24"/><text x="4" y="209">xenograft_recipient_taxonomy_id</text>
<rect class="n" y="216" width="227" height="24"/><text x="4" y="233">strain</text>
<rect class="n" y="240" width="227" height="24"/><text x="4" y="257">xenograft_biopsy_date</text>
<rect class="p" y="264" width="227" height="24"/><text x="4" y="281">history_id</text>
<rect class="n" y="288" width="227" height="24"/><text x="4" y="305">history_date</text>
<rect class="n" y="312" width="227" height="24"/><text x="4" y="329">history_type</text>
<rect class="f" y="336" width="227" height="24"/><text x="4" y="353">history_user_id</text>
<rect class="ft" y="360" width="227" height="24"/><path class="d" d="M89 360v24M179 360v24"/>
<text x="4" y="377">&lt; 1</text><text class="r" x="176" y="377">44 rows</text>
<rect class="o" width="227" height="384"/>
</g>

<g id="history_sequencing" transform="translate(917,5371)">
<rect class="h" width="224" height="24"/><text class="c" x="112" y="17">history_sequencing</text>
<rect class="f" y="24" width="224" height="24"/><text x="4" y="41">id</text>
<rect class="n" y="48" width="224" height="24"/><text x="4" y="65">pool_id</text>
<rect class="n" y="72" width="224" height="24"/><text x="4" y="89">adapter</text>
<rect class="n" y="96" width="224" height="24"/><text x="4" y="113">format_for_data_submission</text>
<rect class="n" y="120" width="224" height="24"/><text x="4" y="137">index_read_type</text>
<rect class="n" y="144" width="224" height="24"/><text x="4" y="161">index_read1_length</text>
<rect class="n" y="168" width="224" height="24"/><text x="4" y="185">index_read2_length</text>
<rect class="n" y="192" width="224" height="24"/><text x="4" y="209">read_type</text>
<rect class="n" y="216" width="224" height="24"/><text x="4" y="233">read1_length</text>
<rect class="n" y="240" width="224" height="24"/><text x="4" y="257">read2_length</text>
<rect class="n" y="264" width="224" height="24"/><text x="4" y="281">sequencing_goal</text>
<rect class="n" y="288" width="224" height="24"/><text x="4" y="305">sequencing_instrument</text>
<rect class="n" y="312" width="224" height="24"/><text x="4" y="329">sequencing_output_mode</text>
<rect class="n" y="336" width="224" height="24"/><text x="4" y="353">short_description_of_submission</text>
<rect class="n" y="360" width="224" height="24"/><text x="4" y="377">submission_date</text>
<rect class="p" y="384" width="224" height="24"/><text x="4" y="401">history_id</text>
<rect class="n" y="408" width="224" height="24"/><text x="4" y="425">history_date</text>
<rect class="n" y="432" width="224" height="24"/><text x="4" y="449">history_type</text>
<rect class="f" y="456" width="224" height="24"/><text x="4" y="473">history_user_id</text>
<rect class="f" y="480" width="224" height="24"/><text x="4" y="497">library_id</text>
<rect class="ft" y="504" width="224" height="24"/><path class="d" d="M85 504v24M179 504v24"/>
<text x="4" y="521">&lt; 1</text><text class="r" x="176" y="521">115 rows</text>
<rect class="o" width="224" height="528"/>
</g>

<g id="taggit_historicaltag" transform="translate(964,5928)">
<rect class="h" width="132" height="24"/><text class="c" x="66" y="17">taggit_historicaltag</text>
<rect class="f" y="24" width="132" height="24"/><text x="4" y="41">id</text>
<rect class="f" y="48" width="132" height="24"/><text x="4" y="65">name</text>
<rect class="f" y="72" width="132" height="24"/><text x="4" y="89">slug</text>
<rect class="p" y="96" width="132" height="24"/><text x="4" y="113">history_id</text>
<rect class="n" y="120" width="132" height="24"/><text x="4" y="137">history_date</text>
<rect class="n" y="144" width="132" height="24"/><text x="4" y="161">history_type</text>
<rect class="f" y="168" width="132" height="24"/><text x="4" y="185">history_user_id</text>
<rect class="ft" y="192" width="132" height="24"/><path class="d" d="M46 192v24M106 192v24"/>
<text x="4" y="209">&lt; 1</text><text class="r" x="103" y="209">2 rows</text>
<rect class="o" width="132" height="216"/>
</g>

<text x="16" y="6182">Generated by SchemaSpy</text>
</svg>
